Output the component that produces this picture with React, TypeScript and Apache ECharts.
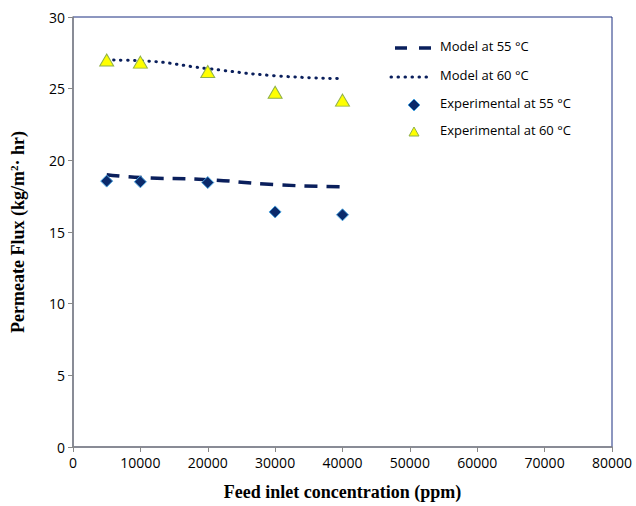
import React, { useEffect, useRef } from "react";
import * as echarts from "echarts";

const concentrations = [5000, 10000, 20000, 30000, 40000];
const model55 = [19.0, 18.8, 18.65, 18.3, 18.15];
const model60 = [27.0, 26.95, 26.4, 25.9, 25.7];
const exp55 = [18.55, 18.5, 18.45, 16.4, 16.2];
const exp60 = [27.0, 26.85, 26.2, 24.75, 24.2];
const legendLabels = [
  "Model at 55 °C",
  "Model at 60 °C",
  "Experimental at 55 °C",
  "Experimental at 60 °C",
];

const pairs = (ys: number[]) => concentrations.map((x, i) => [x, ys[i]]);

const NAVY = "#0a1f5c";

export default function App() {
  const ref = useRef<HTMLDivElement>(null);
  useEffect(() => {
    const chart = echarts.init(ref.current!, undefined, { renderer: "svg" });
    const tickFont = { fontFamily: "Open Sans", fontSize: 14, color: "#000" };
    const legendText = (i: number, y: number) => ({
      type: "text",
      left: 440,
      top: y - 9,
      style: {
        text: legendLabels[i],
        fontFamily: "Open Sans",
        fontSize: 13,
        fill: "#000",
      },
    });
    chart.setOption({
      animation: false,
      backgroundColor: "#fff",
      grid: {
        left: 71,
        right: 24,
        top: 17,
        bottom: 58,
        show: true,
        borderColor: "#1a2f80",
        borderWidth: 1,
      },
      graphic: [
        {
          type: "line",
          shape: { x1: 395, y1: 48, x2: 432, y2: 48 },
          style: { stroke: NAVY, lineWidth: 3.5, lineDash: [12, 12] },
        },
        legendText(0, 48),
        {
          type: "line",
          shape: { x1: 391, y1: 77, x2: 433, y2: 77 },
          style: { stroke: NAVY, lineWidth: 3, lineDash: [0.5, 6.5], lineCap: "round" },
        },
        legendText(1, 77),
        {
          type: "polygon",
          shape: { points: [[414, 99], [420, 105], [414, 111], [408, 105]] },
          style: { fill: "#0b2a6b", stroke: "#4aa3df", lineWidth: 1 },
        },
        legendText(2, 105),
        {
          type: "polygon",
          shape: { points: [[414, 127], [419, 136], [409, 136]] },
          style: { fill: "#ffff00", stroke: "#8fb04a", lineWidth: 1 },
        },
        legendText(3, 132),
      ],
      xAxis: {
        type: "value",
        min: 0,
        max: 80000,
        interval: 10000,
        splitLine: { show: false },
        axisLine: { show: true, lineStyle: { color: "#888", width: 1.5 } },
        axisTick: { show: true, length: 5, lineStyle: { color: "#888" } },
        axisLabel: { ...tickFont, margin: 8, formatter: (v: number) => String(v) },
        name: "Feed inlet concentration (ppm)",
        nameLocation: "middle",
        nameGap: 36,
        nameTextStyle: {
          fontFamily: "Liberation Serif",
          fontWeight: "bold",
          fontSize: 18,
          color: "#000",
        },
      },
      yAxis: {
        type: "value",
        min: 0,
        max: 30,
        interval: 5,
        splitLine: { show: false },
        axisLine: { show: true, lineStyle: { color: "#888", width: 1.5 } },
        axisTick: { show: true, length: 5, lineStyle: { color: "#888" } },
        axisLabel: { ...tickFont, margin: 8 },
        name: "{a|Permeate Flux (kg/m}{s|2}{a|· hr)}",
        nameLocation: "middle",
        nameGap: 46,
        nameTextStyle: {
          rich: {
            a: {
              fontFamily: "Liberation Serif",
              fontWeight: "bold",
              fontSize: 18,
              color: "#000",
            },
            s: {
              fontFamily: "Liberation Serif",
              fontWeight: "bold",
              fontSize: 11,
              color: "#000",
              verticalAlign: "top",
              padding: [0, 0, 8, 0],
            },
          },
        },
      },
      series: [
        {
          name: legendLabels[0],
          type: "line",
          smooth: true,
          symbol: "none",
          z: 2,
          data: pairs(model55),
          lineStyle: { color: NAVY, width: 3.5, type: [13, 9] },
          itemStyle: { color: NAVY },
        },
        {
          name: legendLabels[1],
          type: "line",
          smooth: true,
          symbol: "none",
          z: 2,
          data: pairs(model60),
          lineStyle: { color: NAVY, width: 3, type: [0.5, 6.5], cap: "round" },
          itemStyle: { color: NAVY },
        },
        {
          name: legendLabels[2],
          type: "scatter",
          symbol: "diamond",
          symbolSize: 12,
          z: 5,
          data: pairs(exp55),
          itemStyle: { color: "#0b2a6b", borderColor: "#4aa3df", borderWidth: 1, opacity: 1 },
        },
        {
          name: legendLabels[3],
          type: "scatter",
          symbol: "triangle",
          symbolSize: [14, 12],
          z: 5,
          data: pairs(exp60),
          itemStyle: { color: "#ffff00", borderColor: "#8fb04a", borderWidth: 1, opacity: 1 },
        },
      ],
    });
    return () => chart.dispose();
  }, []);
  return <div ref={ref} style={{ width: 636, height: 506, position: "absolute", left: 0, top: 0 }} />;
}
